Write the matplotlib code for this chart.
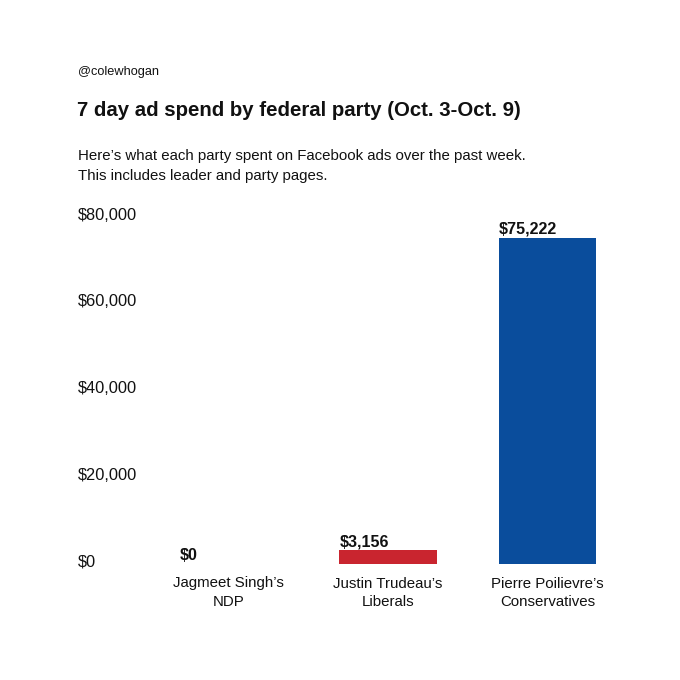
import matplotlib
matplotlib.use("Agg")
import matplotlib.pyplot as plt
import matplotlib.transforms as mtransforms

#   Chart data
parties = ["Jagmeet Singh’s\nNDP", "Justin Trudeau’s\nLiberals", "Pierre Poilievre’s\nConservatives"]
spend = [0, 3156, 75222]
bar_colors = ["#c9252f", "#c9252f", "#0a4d9c"]
value_labels = ["$0", "$3,156", "$75,222"]
y_ticks = [0, 20000, 40000, 60000, 80000]
y_tick_labels = ["$0", "$20,000", "$40,000", "$60,000", "$80,000"]

plt.rcParams['font.family'] = ['Liberation Sans', 'DejaVu Sans']

W = 680
fig = plt.figure(figsize=(6.8, 6.8), dpi=100)
fig.patch.set_facecolor("white")

def px(y):
    return 1 - y / W

#   Header texts
fig.text(78 / W, px(72), "@colewhogan", fontsize=9.2, va="center", ha="left", color="#111111")
fig.text(77 / W, px(111), "7 day ad spend by federal party (Oct. 3-Oct. 9)", fontsize=14.7,
         fontweight="bold", va="center", ha="left", color="#111111")
fig.text(78 / W, px(156), "Here’s what each party spent on Facebook ads over the past week.",
         fontsize=10.8, va="center", ha="left", color="#111111")
fig.text(78 / W, px(176), "This includes leader and party pages.",
         fontsize=10.8, va="center", ha="left", color="#111111")

#   Axes placed so that bars land where the reference has them
ax = fig.add_axes([79 / W, 116 / W, 541 / W, 347 / W])
x = list(range(len(parties)))
ax.bar(x, spend, width=0.61, color=bar_colors)
ax.set_xlim(-0.937, 2.455)
ax.set_ylim(0, 80000)

for s in ax.spines.values():
    s.set_visible(False)
ax.set_yticks([])
ax.set_xticks(x)
ax.set_xticklabels(parties, fontsize=10.8, color="#111111", linespacing=1.4)
ax.tick_params(axis="x", length=0, pad=9)

#   y tick labels, left aligned at the page margin
trans = mtransforms.blended_transform_factory(fig.transFigure, ax.transData)
up = mtransforms.ScaledTranslation(0, 2 / 100, fig.dpi_scale_trans)
for v, lab in zip(y_ticks, y_tick_labels):
    ax.text(78 / W, v, lab, transform=trans + up, fontsize=11.8, va="center", ha="left",
            color="#111111")

#   value labels above each bar, aligned with the bar left edge
lift = mtransforms.ScaledTranslation(0, 1 / 100, fig.dpi_scale_trans)
for xi, v, lab in zip(x, spend, value_labels):
    ax.text(xi - 0.305, v, lab, transform=ax.transData + lift, fontsize=11.6,
            fontweight="bold", va="bottom", ha="left", color="#111111")

fig.savefig("out.png", dpi=100, facecolor="white")
